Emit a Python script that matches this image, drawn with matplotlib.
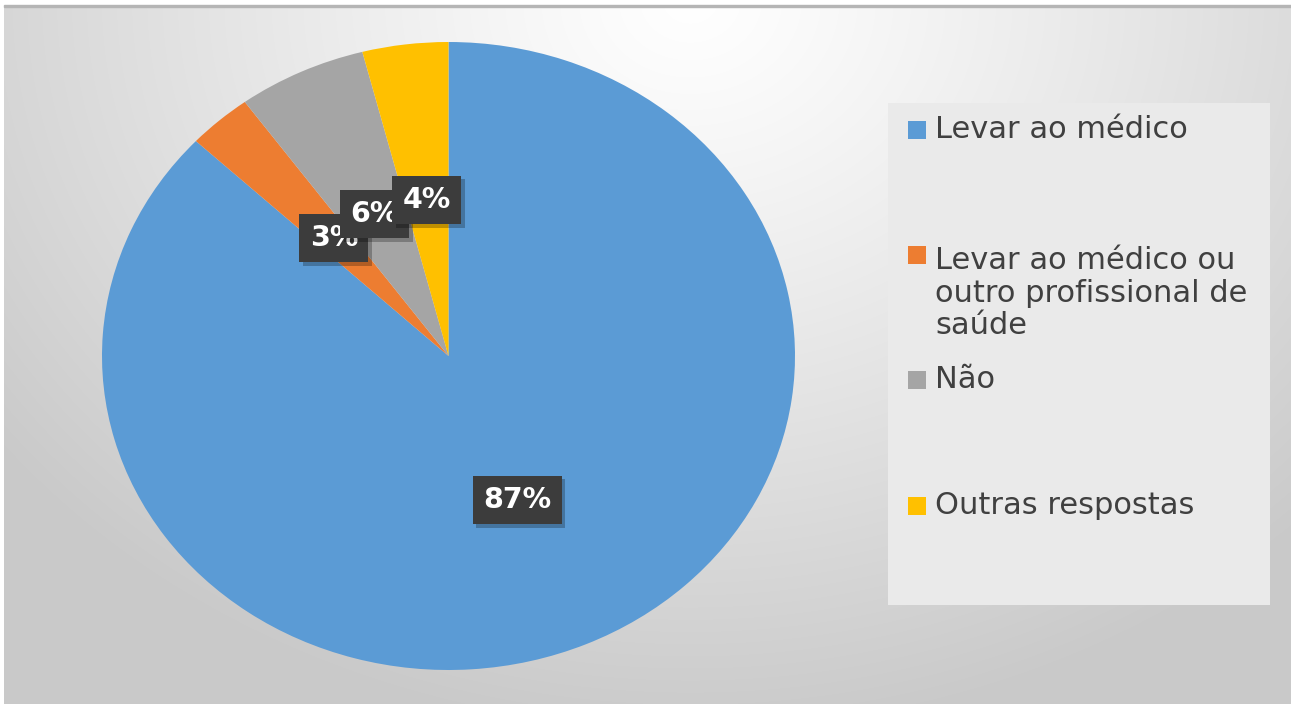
import textwrap
import numpy as np
import matplotlib
matplotlib.use("Agg")
import matplotlib.pyplot as plt
from matplotlib.patches import Rectangle
import matplotlib.patheffects as pe

# ---- data ----
categories = ["Levar ao médico",
              "Levar ao médico ou outro profissional de saúde",
              "Não",
              "Outras respostas"]
values = [87, 3, 6, 4]
colors = ["#5B9BD5", "#ED7D31", "#A5A5A5", "#FFC000"]

W, H = 1291, 704
fig = plt.figure(figsize=(W / 100, H / 100), dpi=100)
fig.patch.set_facecolor("white")

# ---- background gradient ----
bg = fig.add_axes([4 / W, 0, 1 - 4 / W, (H - 7) / H])
yy, xx = np.mgrid[7:H, 4:W]
r = np.sqrt(((xx - 690) / 880.0) ** 2 + ((yy - 0) / 740.0) ** 2)
shade = 255 - 54 * np.clip(r, 0, 1) ** 1.15
img = np.dstack([shade] * 3) / 255.0
bg.imshow(img, aspect="auto", extent=[4, W, H, 7])
bg.axis("off")
fig.patches.append(Rectangle((4 / W, (H - 7) / H), 1 - 4 / W, 2 / H,
                             transform=fig.transFigure, color="#b5b5b5"))

# ---- pie ----
ax = fig.add_axes([102 / W, 34 / H, 693 / W, 628 / H])
wedges, texts, autotexts = ax.pie(
    values, colors=colors, startangle=90, counterclock=False,
    autopct=lambda p: f"{p:.0f}%", pctdistance=0.5, radius=1,
    wedgeprops=dict(linewidth=0),
    textprops=dict(color="white", fontsize=20.5, fontweight="bold",
                   family="DejaVu Sans"))
ax.set_aspect("auto")
ax.set_xlim(-1, 1)
ax.set_ylim(-1, 1)
for t in autotexts:
    t.set_bbox(dict(boxstyle="square,pad=0.36", fc="#3c3c3c", ec="none"))
    t.get_bbox_patch().set_path_effects(
        [pe.withSimplePatchShadow(offset=(2.5, -2.5), shadow_rgbFace="black", alpha=0.25)])

# ---- legend ----
lg = fig.add_axes([0, 0, 1, 1])
lg.set_xlim(0, W)
lg.set_ylim(H, 0)
lg.axis("off")
lg.add_patch(Rectangle((888, 103), 382, 502, fc="#eaeaea", ec="none"))
text_y = [130, 293, 380, 506]
marker_y = [130, 255, 380, 506]
for cat, c, ty, my in zip(categories, colors, text_y, marker_y):
    lg.add_patch(Rectangle((908, my - 9), 18, 18, fc=c, ec="none"))
    lg.text(935, ty, textwrap.fill(cat, 21), fontsize=22, color="#404040",
            va="center", ha="left", linespacing=1.17, family="DejaVu Sans")

fig.savefig("out.png", dpi=100)
